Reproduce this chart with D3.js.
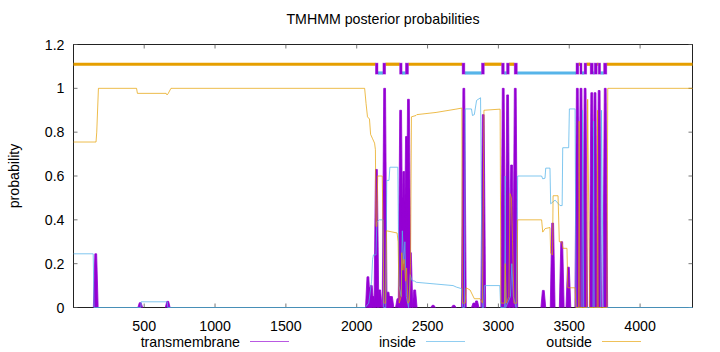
<!DOCTYPE html>
<html><head><meta charset="utf-8">
<script src="https://cdn.jsdelivr.net/npm/d3@7"></script>
<style>
body{margin:0;background:#fff}
svg{display:block}
text{font-family:"Liberation Sans",Arial,sans-serif;font-size:14.2px;fill:#000}
</style>
</head><body><svg id="c" width="720" height="352"></svg>
<script>
// ---------- data ----------
const seqLength = 4370;
const xTickValues = [500,1000,1500,2000,2500,3000,3500,4000];
const yTickValues = [0,0.2,0.4,0.6,0.8,1,1.2];
const yTickLabels = ["0","0.2","0.4","0.6","0.8","1","1.2"];
const seriesNames = ["transmembrane","inside","outside"];
const titleText = "TMHMM posterior probabilities";
const yLabelText = "probability";

// transmembrane posterior peaks (position, probability)
const tmPeakPos  = [158,472,666,2079,2088,2103,2115,2139,2162,2197,2211,2221,2233,2245,2291,2310,2322,2332,2351,2365,2379,2409,2539,2685,2756,2827,2846,2893,3034,3065,3093,3119,3317,3383,3447,3494,3557,3583,3612,3659,3682,3711,3754];
const tmPeakProb = [0.245,0.022,0.028,0.14,0.09,0.10,0.05,0.63,0.08,1.0,0.06,0.07,0.05,0.05,0.04,0.90,0.50,0.62,0.78,0.95,0.25,0.08,0.01,0.01,1.0,0.02,0.03,0.88,1.0,0.97,0.65,1.0,0.078,0.385,0.30,0.184,1.0,1.0,1.0,0.98,0.98,0.99,1.0];

// inside posterior (vertices)
const insidePos  = [1,140,146,476,478,663,666,2060,2085,2105,2112,2118,2136,2142,2160,2185,2190,2205,2212,2228,2234,2290,2298,2314,2322,2332,2340,2350,2366,2378,2390,2410,2420,2680,2704,2740,2748,2760,2766,2810,2817,2830,2846,2874,2880,2886,2896,2902,3010,3016,3044,3048,3052,3085,3095,3105,3125,3136,3305,3313,3329,3334,3364,3369,3400,3435,3450,3454,3496,3501,3541,3548,3590,3594,3602,3668,3672,3676,3722,3728,3740,4370];
const insideProb = [0.245,0.245,0,0,0.026,0.026,0,0,0.02,0.12,0.22,0.24,0.24,0.39,0.40,0.40,0,0,0.58,0.58,0.64,0.64,0.10,0.05,0.35,0.20,0.30,0.05,0,0.15,0.123,0.12,0.115,0.10,0.093,0.086,0,0,0.906,0.906,0.876,0.88,0.945,0.957,0.5,0,0,0.10,0.10,0,0,0.60,0,0.05,0.20,0.05,0,0.60,0.60,0.587,0.59,0.636,0.636,0.473,0.49,0.465,0.465,0.729,0.729,0.906,0.906,0,0,0.90,0,0,0.85,0,0,0.90,0,0];

// outside posterior (vertices)
const outsidePos  = [1,160,165,177,446,452,655,661,668,689,2056,2066,2076,2090,2098,2112,2126,2132,2136,2142,2148,2180,2186,2192,2204,2210,2285,2292,2300,2314,2318,2326,2334,2345,2352,2362,2372,2380,2386,2418,2424,2560,2700,2742,2746,2766,2772,2800,2830,2870,2888,2898,3012,3018,3044,3048,3056,3074,3082,3092,3100,3110,3130,3136,3305,3313,3330,3364,3369,3382,3386,3421,3430,3447,3456,3484,3490,3541,3548,3566,3570,3575,3624,3630,3644,3697,3700,3704,3766,3772,4370];
const outsideProb = [0.755,0.755,0.80,1.0,1.0,0.977,0.977,0.970,0.975,1.0,1.0,0.93,0.87,0.86,0.79,0.77,0.75,0.72,0.37,0.37,0.60,0.60,0.36,0.02,0.02,0.35,0.34,0.30,0.02,0.05,0.25,0.17,0.22,0.12,0.18,0.02,0.03,0.20,0.87,0.876,0.88,0.89,0.905,0.91,0.02,0.02,0.09,0.08,0.04,0.04,0.02,0.90,0.905,0.02,0.02,0.20,0.02,0.05,0.52,0.50,0.30,0.02,0.02,0.40,0.40,0.344,0.36,0.365,0.247,0.24,0.51,0.51,0.30,0.30,0.27,0.27,0.09,0.09,0,0,0.85,0,0,0.95,0,0,0.90,0,0,1.0,1.0];

// predicted topology segments
const topoStart = [1,2132,2150,2185,2204,2303,2320,2344,2365,2744,2763,2881,2900,3023,3041,3058,3076,3112,3133,3548,3567,3576,3590,3605,3623,3648,3669,3677,3697,3705,3721,3743,3765];
const topoEnd   = [2132,2150,2185,2204,2303,2320,2344,2365,2744,2763,2881,2900,3023,3041,3058,3076,3112,3133,3548,3567,3576,3590,3605,3623,3648,3669,3677,3697,3705,3721,3743,3765,4370];
const topoType  = ["outside","TMhelix","inside","TMhelix","outside","TMhelix","inside","TMhelix","outside","TMhelix","inside","TMhelix","outside","TMhelix","inside","TMhelix","outside","TMhelix","inside","TMhelix","outside","TMhelix","inside","TMhelix","outside","TMhelix","inside","TMhelix","outside","TMhelix","inside","TMhelix","outside"];
const topoLevel = {outside:1.11, inside:1.07};
const tmBoxLow = 1.065, tmBoxHigh = 1.115;

// ---------- drawing ----------
const colTM = "#9400D3", colIn = "#56B4E9", colOut = "#E69F00";
const svg = d3.select("#c");
const L = 73.5, R = 692.5, T = 44.5, B = 307.5;
const x = d3.scaleLinear().domain([1, seqLength]).range([L, R]);
const y = d3.scaleLinear().domain([0, 1.2]).range([B, T]);

// frame
svg.append("rect").attr("x", L).attr("y", T).attr("width", R-L).attr("height", B-T)
  .attr("fill", "none").attr("stroke", "#222").attr("stroke-width", 1);

// ticks (inward, mirrored)
const tk = 4;
const gx = svg.append("g");
xTickValues.forEach(v => {
  gx.append("line").attr("x1", x(v)).attr("x2", x(v)).attr("y1", B).attr("y2", B-tk).attr("stroke", "#555").attr("stroke-width", 0.8);
  gx.append("line").attr("x1", x(v)).attr("x2", x(v)).attr("y1", T).attr("y2", T+tk).attr("stroke", "#555").attr("stroke-width", 0.8);
  gx.append("text").attr("x", x(v)).attr("y", 330.5).attr("text-anchor", "middle").text(v);
});
yTickValues.forEach((v, i) => {
  gx.append("line").attr("x1", L).attr("x2", L+tk).attr("y1", y(v)).attr("y2", y(v)).attr("stroke", "#555").attr("stroke-width", 0.8);
  gx.append("line").attr("x1", R).attr("x2", R-tk).attr("y1", y(v)).attr("y2", y(v)).attr("stroke", "#555").attr("stroke-width", 0.8);
  gx.append("text").attr("x", L-9).attr("y", y(v)+5).attr("text-anchor", "end").text(yTickLabels[i]);
});

// TM peaks (impulse-like spikes)
const plot = svg.append("g");
const hwBase = 2.4, hwTop = 0.9;
tmPeakPos.forEach((p, i) => {
  const cx = x(p), h = y(tmPeakProb[i]);
  const pts = [[cx-hwBase, y(0)], [cx-hwTop, h], [cx+hwTop, h], [cx+hwBase, y(0)]];
  plot.append("path").attr("d", d3.line()(pts)).attr("fill", colTM).attr("stroke", colTM).attr("stroke-width", 0.8);
});

// inside / outside lines
const lineGen = d3.line().x(d => x(d[0])).y(d => y(d[1]));
plot.append("path").attr("d", lineGen(insidePos.map((p,i)=>[p, insideProb[i]])))
  .attr("fill", "none").attr("stroke", colIn).attr("stroke-width", 1).attr("stroke-opacity", 0.75);
plot.append("path").attr("d", lineGen(outsidePos.map((p,i)=>[p, outsideProb[i]])))
  .attr("fill", "none").attr("stroke", colOut).attr("stroke-width", 1).attr("stroke-opacity", 0.7);

// topology bar
topoType.forEach((t, i) => {
  if (t === "TMhelix") return;
  plot.append("line").attr("x1", x(topoStart[i])).attr("x2", x(topoEnd[i]))
    .attr("y1", y(topoLevel[t])).attr("y2", y(topoLevel[t]))
    .attr("stroke", t === "outside" ? colOut : colIn).attr("stroke-width", 3.2);
});
topoType.forEach((t, i) => {
  if (t !== "TMhelix") return;
  plot.append("rect").attr("x", x(topoStart[i])).attr("y", y(tmBoxHigh))
    .attr("width", x(topoEnd[i]) - x(topoStart[i])).attr("height", y(tmBoxLow) - y(tmBoxHigh))
    .attr("fill", colTM).attr("stroke", colTM).attr("stroke-width", 0.8).attr("stroke-opacity", 0.5);
});

// title & axis label
svg.append("text").attr("x", (L+R)/2).attr("y", 24).attr("text-anchor", "middle").text(titleText);
svg.append("text").attr("transform", "translate(19," + ((T+B)/2) + ") rotate(-90)")
  .attr("text-anchor", "middle").text(yLabelText);

// legend
const legRight = [240, 416, 592];
const legCols = [colTM, colIn, colOut];
seriesNames.forEach((n, i) => {
  svg.append("text").attr("x", legRight[i]).attr("y", 347).attr("text-anchor", "end").text(n);
  svg.append("line").attr("x1", legRight[i]+10).attr("x2", legRight[i]+49).attr("y1", 341.5).attr("y2", 341.5)
    .attr("stroke", legCols[i]).attr("stroke-width", 1).attr("stroke-opacity", 0.65);
});
</script>
</body></html>
